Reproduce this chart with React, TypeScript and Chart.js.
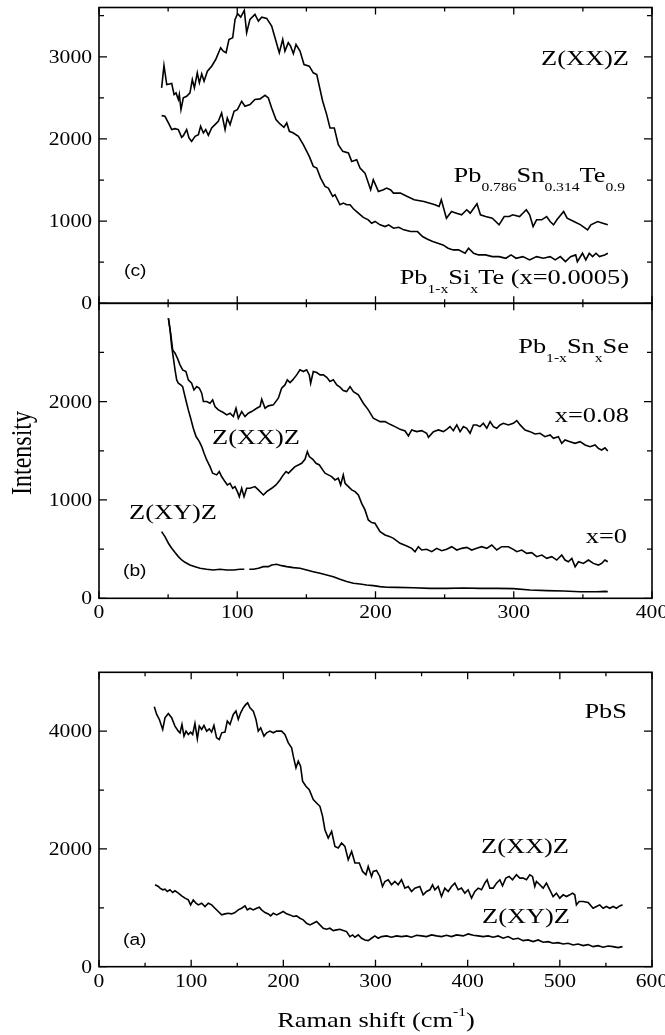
import React, { useEffect, useRef } from "react";
import { Chart, registerables } from "chart.js";

Chart.register(...registerables);

const PAGE_W = 665;
const PAGE_H = 1035;
const PLOT_LEFT = 99;
const PLOT_RIGHT = 652;
const SERIF = '"Liberation Serif", Tinos, "Times New Roman", serif';
const SANS = '"Liberation Sans", Arimo, Arial, Helvetica, sans-serif';
const STRETCH = 1.2;

type Pt = [number, number | null];

// ---------------- Panel (c): Z(XX)Z, Raman shift vs intensity ----------------
const cPbSnTe: Pt[] = [
  [45.3, 2622], [47.0, 2894], [49.0, 2662], [50.9, 2670], [52.6, 2675], [54.3, 2540], [55.7, 2561],
  [57.4, 2480], [58.1, 2540], [59.3, 2357], [61.0, 2500], [63.4, 2520], [65.8, 2561], [67.5, 2723],
  [69.0, 2622], [71.1, 2805], [72.6, 2683], [74.3, 2792], [76.0, 2703], [78.4, 2825], [81.5, 2886],
  [84.4, 2967], [88.0, 3110], [89.9, 3069], [91.9, 3049], [94.0, 3211], [96.7, 3232], [98.4, 3455],
  [100.3, 3524], [102.5, 3483], [105.1, 3565], [106.8, 3293], [109.2, 3455], [112.8, 3516], [115.3, 3435],
  [117.7, 3483], [121.3, 3467], [124.9, 3373], [127.3, 3232], [130.4, 3049], [132.9, 3211], [134.5, 3069],
  [136.9, 3171], [138.6, 3130], [140.6, 3037], [142.5, 3150], [145.4, 3069], [148.3, 2906], [152.1, 2886],
  [155.0, 2805], [157.5, 2784], [161.8, 2459], [164.7, 2296], [167.1, 2134], [170.2, 2134], [173.1, 1931],
  [176.3, 1849], [180.4, 1829], [182.8, 1727], [186.4, 1748], [188.8, 1646], [192.4, 1585], [196.5, 1382],
  [198.4, 1504], [202.1, 1362], [205.7, 1382], [208, 1402], [211, 1380], [213, 1341], [218, 1341],
  [223, 1300], [228, 1260], [235, 1239], [240, 1215], [243, 1199], [246, 1178], [247.6, 1260],
  [251.3, 1036], [255, 1117], [258, 1100], [262.3, 1077], [266, 1138], [268.5, 1097], [273.4, 1211],
  [275.9, 1077], [279.6, 1056], [284.5, 1036], [289.4, 955], [293.1, 1056], [296.8, 1056], [299.2, 1077],
  [304.2, 1056], [309.1, 1138], [311.5, 1077], [314, 934], [316.5, 1016], [320.2, 1016], [323.8, 1056],
  [326.3, 995], [328.8, 955], [331.2, 1016], [336.1, 1117], [338.6, 1036], [343.5, 995], [348.4, 955],
  [353.4, 894], [355.8, 955], [360.7, 995], [364.4, 975], [368, 955],
];

const cPbSiTe: Pt[] = [
  [45.3, 2284], [47.7, 2276], [50.2, 2195], [52.6, 2114], [55.0, 2126], [57.4, 2114], [59.8, 2020],
  [61.0, 2040], [63.4, 2114], [65.1, 2012], [67.0, 1971], [69.5, 2032], [71.9, 2053], [73.5, 2154],
  [75.5, 2073], [77.2, 2114], [79.1, 2045], [81.5, 2134], [83.9, 2175], [86.3, 2215], [88.7, 2317],
  [91.2, 2114], [92.8, 2256], [94.8, 2175], [97.7, 2337], [100.1, 2357], [103.2, 2459], [105.6, 2398],
  [109.2, 2419], [112.8, 2480], [116.5, 2488], [120.1, 2532], [122.5, 2500], [124.9, 2378], [128.0, 2236],
  [130.9, 2183], [133.8, 2142], [135.8, 2195], [137.7, 2093], [140.6, 2073], [144.2, 2032], [147.8, 1931],
  [152.1, 1788], [155.0, 1666], [157.5, 1646], [160.3, 1524], [163.5, 1423], [165.9, 1402], [169.0, 1301],
  [170.7, 1321], [174.3, 1199], [176.7, 1219], [179.2, 1199], [181.6, 1199], [184.0, 1150], [187.6, 1097],
  [191.2, 1045], [194.8, 1016], [197.2, 975], [199.7, 996], [203.3, 955], [207, 934], [209.5, 955],
  [213.1, 914], [216.8, 926], [220.5, 894], [225.4, 873], [230.4, 873], [234, 812], [237.7, 780],
  [241.4, 751], [245.1, 731], [248.8, 711], [252.5, 670], [256.2, 650], [260, 650], [264.8, 609],
  [267.3, 670], [271, 609], [274.6, 589], [279.6, 589], [284.5, 568], [289.4, 568], [294.3, 548],
  [298, 589], [301.7, 548], [306.6, 568], [311.5, 528], [316.5, 568], [321.4, 548], [326.3, 568],
  [330, 528], [333.7, 568], [337.4, 507], [341.1, 568], [344.8, 589], [346, 507], [349.7, 609],
  [352.1, 528], [354.6, 609], [357, 568], [359.5, 609], [362, 568], [365.7, 589], [368.1, 609],
];

// ---------------- Panel (b): Pb1-xSnxSe ----------------
const bX008: Pt[] = [
  [50.2, 2848], [51.8, 2696], [53.3, 2526], [55, 2492], [56.7, 2442], [58.6, 2374], [60.5, 2323],
  [62.9, 2306], [64.6, 2221], [67, 2187], [68.7, 2119], [70.7, 2153], [72.6, 2136], [74.3, 2086],
  [75.5, 2001], [77.9, 2001], [80.3, 1984], [82.2, 2018], [83.9, 1950], [86.3, 1916], [89.9, 1889],
  [92.4, 1865], [94.8, 1882], [97.2, 1848], [99.1, 1933], [100.8, 1831], [103.2, 1899], [105.6, 1848],
  [108, 1882], [110.4, 1899], [114.1, 1933], [116.5, 1950], [117.7, 2024], [120.1, 1933], [122.5, 1957],
  [126.1, 1967], [129.7, 2035], [132.1, 2136], [134.5, 2170], [136.2, 2221], [138.2, 2194], [140.1, 2221],
  [143, 2272], [145.4, 2323], [147.8, 2306], [150.2, 2323], [152.1, 2272], [153.1, 2187], [155, 2306],
  [157.5, 2296], [159.9, 2272], [162.3, 2272], [164.7, 2248], [167.1, 2204], [169.5, 2221], [172, 2170],
  [174.3, 2147], [176.7, 2113], [179.1, 2102], [181.6, 2153], [184, 2102], [187.6, 2069], [191.2, 1984],
  [194.8, 1916], [198.4, 1831], [203.3, 1797], [206.9, 1797], [210.5, 1769], [214.1, 1746], [217.8, 1718],
  [221.4, 1702], [223.8, 1651], [226.2, 1712], [229.8, 1695], [233.4, 1705], [237, 1678], [238.3, 1637],
  [241.9, 1695], [245.5, 1712], [249.1, 1695], [251.5, 1718], [253.9, 1746], [256.3, 1705], [258.8, 1763],
  [261.2, 1695], [263.6, 1746], [266, 1729], [268.4, 1678], [270.8, 1763], [273.2, 1763], [275.6, 1746],
  [278, 1780], [280.5, 1729], [282.9, 1797], [285.3, 1746], [287.7, 1729], [290.1, 1763], [292.5, 1780],
  [296.1, 1763], [299.7, 1780], [302.2, 1807], [304.6, 1763], [308.2, 1712], [311.8, 1695], [315.4, 1671],
  [319, 1678], [322.6, 1644], [326.3, 1661], [328.7, 1627], [332.3, 1644], [334.7, 1576], [337.1, 1610],
  [340.7, 1593], [344.3, 1576], [348, 1593], [351.6, 1559], [355.2, 1542], [358.8, 1559], [361.2, 1525],
  [363.6, 1508], [366, 1530], [368, 1498],
];

const bX0: Pt[] = [
  [50.2, 2848], [51.4, 2730], [52.6, 2560], [53.8, 2442], [55, 2323], [56.2, 2221], [57.4, 2187],
  [59.1, 2170], [60.5, 2153], [62.2, 2052], [63.4, 1984], [64.6, 1916], [66.3, 1831], [68.2, 1729],
  [70.2, 1645], [72.6, 1594], [74.3, 1543], [76, 1475], [77.9, 1407], [80.3, 1339], [82.2, 1272],
  [85.1, 1255], [87, 1289], [88.7, 1238], [91.1, 1187], [92.8, 1153], [94.8, 1170], [96.7, 1119],
  [98.4, 1136], [100.1, 1085], [101.5, 1034], [103.2, 1119], [104.9, 1034], [106.8, 1119], [109.2, 1119],
  [112.8, 1136], [115.3, 1102], [118.9, 1051], [121.3, 1085], [124.9, 1119], [128, 1153], [130.9, 1204],
  [133.3, 1255], [135.3, 1289], [137, 1272], [139.4, 1306], [141.8, 1339], [144.2, 1356], [146.6, 1373],
  [149, 1414], [150.7, 1492], [152.1, 1441], [154.6, 1414], [157, 1373], [159.4, 1356], [161.8, 1306],
  [163.5, 1272], [165.9, 1255], [168.3, 1238], [170.7, 1204], [173.1, 1221], [174.8, 1153], [176.7, 1255],
  [178, 1170], [180.4, 1136], [182.8, 1102], [185.2, 1085], [187.6, 1051], [190, 966], [192.4, 899],
  [194.8, 797], [197.2, 770], [199.6, 763], [203.3, 678], [206.9, 644], [210.5, 627], [213, 610],
  [217.8, 559], [222.6, 532], [226.2, 508], [228.6, 474], [231, 525], [233.4, 491], [237, 498],
  [240.7, 474], [244.3, 508], [247.9, 484], [251.5, 498], [255.1, 525], [258.8, 491], [262.4, 508],
  [266, 518], [269.6, 491], [273.2, 508], [276.8, 525], [280.5, 508], [284.1, 542], [287.7, 491],
  [291.3, 525], [296.1, 525], [299.7, 498], [302.2, 474], [305.8, 491], [309.4, 457], [313, 464],
  [316.6, 423], [320.3, 440], [323.9, 406], [327.5, 423], [331.1, 389], [334.7, 440], [337.1, 389],
  [339.5, 372], [342, 406], [344.4, 321], [346.8, 372], [350.4, 355], [354, 389], [357.6, 355],
  [361.2, 338], [363.6, 355], [366, 389], [368, 372],
];

const bXY: Pt[] = [
  [45.3, 678], [47.7, 627], [50.2, 560], [52.6, 509], [55, 465], [57.4, 424], [59.8, 390],
  [62.2, 366], [65.8, 339], [69.5, 322], [73.1, 305], [77.9, 295], [82.7, 288], [87.5, 295],
  [92.4, 288], [97.2, 288], [102, 295], [105.1, 295], [107, null], [108.7, 295], [111.6, 295],
  [115.3, 305], [118.9, 322], [122.5, 322], [124.9, 339], [128.5, 346], [132.1, 332], [135.8, 322],
  [140.6, 312], [145.4, 305], [150.2, 288], [155, 271], [159.9, 254], [164.7, 237], [169.5, 220],
  [174.3, 193], [179.1, 170], [184, 153], [188.8, 146], [193.6, 136], [198.4, 129], [203.3, 119],
  [208.1, 112], [215.4, 111], [227.4, 108], [239.5, 101], [251.5, 101], [263.6, 104], [275.6, 101],
  [287.7, 101], [299.7, 98], [311.8, 84], [323.9, 78], [336, 74], [348, 67], [360, 67], [366, 70],
  [368, 68],
];

// ---------------- Panel (a): PbS ----------------
const aXX: Pt[] = [
  [60, 4415], [62.6, 4284], [65.5, 4199], [69.1, 4029], [71.6, 4228], [75.2, 4301], [78.8, 4228],
  [82.4, 4086], [86.1, 4001], [87.9, 3972], [90, 4114], [92.2, 3916], [94.4, 4001], [96.9, 3944],
  [99.4, 3984], [101.6, 3944], [104.1, 4131], [106.7, 3870], [108.8, 4086], [111.4, 4029], [113.9, 4097],
  [116.8, 4001], [119.7, 4040], [122.2, 3984], [124.7, 4097], [127.6, 3887], [130.5, 3859], [133.1, 3972],
  [136.7, 3984], [139.2, 4171], [142.1, 4114], [145.7, 4284], [148.6, 4341], [151.1, 4199], [153.7, 4313],
  [156.6, 4398], [159.4, 4455], [161.3, 4483], [163.8, 4398], [167.4, 4341], [170.3, 4199], [172.8, 4001],
  [175.4, 4057], [179, 3916], [181.9, 3972], [185.5, 4001], [189.1, 3972], [192.7, 4001], [198.1, 4001],
  [201.7, 3944], [205.4, 3802], [209, 3717], [210.8, 3575], [213.7, 3377], [216.2, 3490], [218.7, 3405],
  [220.9, 3150], [224.5, 3065], [228.1, 3008], [232.5, 2838], [236.1, 2781], [239.7, 2724], [242.6, 2554],
  [245.1, 2327], [248.7, 2185], [252.4, 2299], [256, 2043], [259.6, 2015], [263.2, 2100], [266.8, 2043],
  [270.4, 1816], [274.1, 1958], [277.7, 1760], [282.4, 1760], [286, 1618], [289.6, 1561], [292.1, 1703],
  [295.7, 1533], [297.5, 1618], [301.1, 1635], [304.7, 1533], [307.6, 1362], [310.2, 1447], [313.8, 1476],
  [317.4, 1391], [321, 1447], [324.6, 1391], [328.2, 1476], [331.9, 1334], [335.5, 1362], [339.1, 1277],
  [342.7, 1334], [348.1, 1362], [351.7, 1221], [355.4, 1277], [359, 1306], [361.9, 1391], [364.4, 1306],
  [368, 1362], [371.6, 1192], [375.2, 1334], [378.9, 1277], [382.5, 1362], [386.1, 1419], [389.7, 1306],
  [393.3, 1334], [396.9, 1249], [400.5, 1306], [404.2, 1164], [407.8, 1277], [411.4, 1334], [415, 1306],
  [418.6, 1419], [421.1, 1476], [424, 1334], [427.7, 1334], [431.3, 1419], [434.9, 1476], [437.8, 1374],
  [441.4, 1504], [445, 1533], [448.6, 1476], [452.9, 1561], [456.6, 1504], [460.2, 1504], [463.8, 1476],
  [467.4, 1561], [470.3, 1533], [472.8, 1362], [474.6, 1447], [478.3, 1391], [481.9, 1334], [485.5, 1419],
  [489.1, 1306], [492.7, 1192], [496.3, 1249], [499.9, 1164], [503.6, 1221], [507.2, 1192], [510.8, 1221],
  [513.7, 1249], [516.2, 1221], [518, 1050], [520.9, 1107], [525.3, 1107], [530.7, 1090], [536.1, 993],
  [539.7, 1022], [543.3, 1050], [547, 993], [550.6, 1022], [554.2, 993], [557.8, 1022], [561.4, 993],
  [565, 1033], [568, 1050],
];

const aXY: Pt[] = [
  [60.8, 1391], [64.4, 1362], [66.2, 1334], [69.1, 1306], [71.6, 1317], [74.1, 1277], [77, 1306],
  [79.9, 1261], [82.4, 1289], [86.1, 1249], [89.7, 1204], [93.3, 1164], [96.9, 1135], [99.4, 1050],
  [102.3, 1135], [105.2, 1079], [107.8, 1050], [111.4, 1079], [115, 1022], [118.6, 1079], [122.2, 1050],
  [125.8, 993], [129.4, 937], [133.1, 880], [136.7, 897], [140.3, 908], [143.9, 897], [147.5, 920],
  [151.1, 965], [154.7, 993], [158.4, 1033], [160.9, 965], [163.8, 993], [167.4, 965], [171, 993],
  [173.9, 1010], [176.4, 965], [180.1, 920], [183.7, 897], [186.2, 863], [189.1, 908], [192.7, 880],
  [196.3, 908], [199.9, 937], [203.6, 897], [207.2, 880], [210.8, 852], [214.4, 863], [218, 823],
  [221.6, 795], [225.2, 738], [228.9, 710], [232.5, 738], [236.1, 767], [239.7, 710], [243.3, 653],
  [246.9, 636], [250.5, 653], [254.2, 613], [257.8, 625], [261.4, 636], [265, 613], [268.6, 596],
  [272.2, 511], [275.1, 540], [277.7, 500], [281.3, 540], [284.9, 483], [288.5, 455], [292.1, 443],
  [295.7, 483], [299.3, 523], [302.9, 483], [306.6, 511], [312, 523], [317.4, 500], [322.8, 523],
  [328.2, 511], [333.7, 523], [339.1, 500], [344.5, 534], [349.9, 523], [355.4, 511], [360.8, 540],
  [366.2, 523], [371.6, 511], [377, 534], [382.5, 511], [387.9, 540], [395.1, 523], [400.5, 557],
  [406, 534], [411.4, 523], [416.8, 511], [422.2, 523], [427.7, 500], [433.1, 523], [438.5, 483],
  [443.9, 511], [449.3, 466], [454.8, 483], [460.2, 443], [465.6, 455], [471, 426], [476.5, 455],
  [481.9, 415], [487.3, 426], [492.7, 398], [498.1, 409], [503.6, 386], [509, 398], [514.4, 369],
  [519.8, 386], [525.3, 358], [530.7, 375], [536.1, 341], [541.5, 358], [547, 330], [552.4, 352],
  [557.8, 341], [563.2, 324], [568, 341],
];

// ---------------- Axis ticks ----------------
const bcXMajor = [0, 100, 200, 300, 400];
const bcXMinor = [50, 150, 250, 350];
const cYMajor = [0, 1000, 2000, 3000];
const cYMinor = [500, 1500, 2500, 3500];
const bYMajor = [0, 1000, 2000];
const bYMinor = [500, 1500, 2500];
const aXMajor = [0, 100, 200, 300, 400, 500, 600];
const aXMinor = [50, 150, 250, 350, 450, 550];
const aYMajor = [0, 2000, 4000];
const aYMinor = [1000, 3000];

// ---------------- Text helpers ----------------
type Seg = { t: string; k?: "sub" | "sup" };
type Note = {
  segs: Seg[];
  x: number;
  y: number;
  size: number;
  small?: number;
  align?: "left" | "right" | "center";
  family?: string;
  rotate?: boolean;
};

function segsWidth(ctx: CanvasRenderingContext2D, segs: Seg[], size: number, small: number, family: string) {
  let w = 0;
  for (const s of segs) {
    ctx.font = `${s.k ? small : size}px ${family}`;
    w += ctx.measureText(s.t).width * STRETCH;
  }
  return w;
}

function drawNote(ctx: CanvasRenderingContext2D, n: Note) {
  const family = n.family ?? SERIF;
  const small = n.small ?? Math.round(n.size * 0.6);
  ctx.save();
  ctx.fillStyle = "#000";
  ctx.textAlign = "left";
  ctx.textBaseline = "alphabetic";
  if (n.rotate) {
    const txt = n.segs.map((s) => s.t).join("");
    ctx.font = `${n.size}px ${family}`;
    const w = ctx.measureText(txt).width;
    ctx.translate(n.x, n.y);
    ctx.rotate(-Math.PI / 2);
    ctx.scale(1, STRETCH);
    ctx.fillText(txt, -w / 2, 0);
    ctx.restore();
    return;
  }
  const w = segsWidth(ctx, n.segs, n.size, small, family);
  let cx = n.align === "right" ? n.x - w : n.align === "center" ? n.x - w / 2 : n.x;
  for (const s of n.segs) {
    ctx.font = `${s.k ? small : n.size}px ${family}`;
    const dy = s.k === "sub" ? n.size * 0.41 : s.k === "sup" ? -n.size * 0.5 : 0;
    const sw = ctx.measureText(s.t).width * STRETCH;
    ctx.save();
    ctx.translate(cx, n.y + dy);
    ctx.scale(STRETCH, 1);
    ctx.fillText(s.t, 0, 0);
    ctx.restore();
    cx += sw;
  }
  ctx.restore();
}

// ---------------- Panels ----------------
type Panel = {
  id: string;
  top: number;
  bottom: number;
  xMax: number;
  yMax: number;
  xMajor: number[];
  xMinor: number[];
  yMajor: number[];
  yMinor: number[];
  xLabels: boolean;
  series: Pt[][];
  notes: Note[];
};

const PANELS: Panel[] = [
  {
    id: "c",
    top: 7.5,
    bottom: 303.3,
    xMax: 400,
    yMax: 3600,
    xMajor: bcXMajor,
    xMinor: bcXMinor,
    yMajor: cYMajor,
    yMinor: cYMinor,
    xLabels: false,
    series: [cPbSnTe, cPbSiTe],
    notes: [
      { segs: [{ t: "Z(XX)Z" }], x: 629, y: 65, size: 22, align: "right" },
      {
        segs: [
          { t: "Pb" }, { t: "0.786", k: "sub" }, { t: "Sn" }, { t: "0.314", k: "sub" },
          { t: "Te" }, { t: "0.9", k: "sub" },
        ],
        x: 625, y: 182, size: 22, small: 13, align: "right",
      },
      {
        segs: [{ t: "Pb" }, { t: "1-x", k: "sub" }, { t: "Si" }, { t: "x", k: "sub" }, { t: "Te (x=0.0005)" }],
        x: 629, y: 284, size: 22, small: 13, align: "right",
      },
      { segs: [{ t: "(c)" }], x: 124, y: 276, size: 16, family: SANS },
    ],
  },
  {
    id: "b",
    top: 303.3,
    bottom: 598.3,
    xMax: 400,
    yMax: 3000,
    xMajor: bcXMajor,
    xMinor: bcXMinor,
    yMajor: bYMajor,
    yMinor: bYMinor,
    xLabels: true,
    series: [bX008, bX0, bXY],
    notes: [
      {
        segs: [{ t: "Pb" }, { t: "1-x", k: "sub" }, { t: "Sn" }, { t: "x", k: "sub" }, { t: "Se" }],
        x: 629, y: 353, size: 22, small: 13, align: "right",
      },
      { segs: [{ t: "x=0.08" }], x: 629, y: 422, size: 22, align: "right" },
      { segs: [{ t: "Z(XX)Z" }], x: 212, y: 444, size: 22 },
      { segs: [{ t: "Z(XY)Z" }], x: 129, y: 519, size: 22 },
      { segs: [{ t: "x=0" }], x: 627, y: 543, size: 22, align: "right" },
      { segs: [{ t: "(b)" }], x: 123, y: 576, size: 16, family: SANS },
    ],
  },
  {
    id: "a",
    top: 672.3,
    bottom: 966.7,
    xMax: 600,
    yMax: 5000,
    xMajor: aXMajor,
    xMinor: aXMinor,
    yMajor: aYMajor,
    yMinor: aYMinor,
    xLabels: true,
    series: [aXX, aXY],
    notes: [
      { segs: [{ t: "PbS" }], x: 627, y: 718, size: 22, align: "right" },
      { segs: [{ t: "Z(XX)Z" }], x: 569, y: 853, size: 22, align: "right" },
      { segs: [{ t: "Z(XY)Z" }], x: 570, y: 923, size: 22, align: "right" },
      { segs: [{ t: "(a)" }], x: 123, y: 945, size: 16, family: SANS },
      {
        segs: [{ t: "Raman shift (cm" }, { t: "-1", k: "sup" }, { t: ")" }],
        x: 376, y: 1027, size: 22, small: 13, align: "center",
      },
      { segs: [{ t: "Intensity" }], x: 31, y: 453, size: 24, rotate: true },
    ],
  },
];

function panelPlugin(p: Panel) {
  return {
    id: "panel-" + p.id,
    afterDatasetsDraw(chart: any) {
      const ctx: CanvasRenderingContext2D = chart.ctx;
      const a = chart.chartArea;
      const xs = chart.scales.x;
      const ys = chart.scales.y;
      ctx.save();
      ctx.strokeStyle = "#000";
      ctx.lineWidth = 1.6;
      ctx.strokeRect(a.left, a.top, a.right - a.left, a.bottom - a.top);
      ctx.lineWidth = 1.3;
      ctx.beginPath();
      const xt = (vals: number[], len: number) => {
        for (const v of vals) {
          const px = xs.getPixelForValue(v);
          ctx.moveTo(px, a.bottom);
          ctx.lineTo(px, a.bottom - len);
          ctx.moveTo(px, a.top);
          ctx.lineTo(px, a.top + len);
        }
      };
      const yt = (vals: number[], len: number) => {
        for (const v of vals) {
          const py = ys.getPixelForValue(v);
          ctx.moveTo(a.left, py);
          ctx.lineTo(a.left + len, py);
          ctx.moveTo(a.right, py);
          ctx.lineTo(a.right - len, py);
        }
      };
      xt(p.xMajor, 7);
      xt(p.xMinor, 4);
      yt(p.yMajor, 8);
      yt(p.yMinor, 5);
      ctx.stroke();
      ctx.restore();

      for (const v of p.yMajor) {
        drawNote(ctx, { segs: [{ t: String(v) }], x: a.left - 7, y: ys.getPixelForValue(v) + 6, size: 18, align: "right" });
      }
      if (p.xLabels) {
        for (const v of p.xMajor) {
          drawNote(ctx, { segs: [{ t: String(v) }], x: xs.getPixelForValue(v), y: a.bottom + 20, size: 18, align: "center" });
        }
      }
      for (const n of p.notes) drawNote(ctx, n);
    },
  };
}

function buildConfig(p: Panel): any {
  return {
    type: "line",
    data: {
      datasets: p.series.map((s, i) => ({
        label: p.id + i,
        data: s.map(([x, y]) => ({ x, y })),
        borderColor: "#000",
        borderWidth: 1.6,
        pointRadius: 0,
        fill: false,
        tension: 0,
        spanGaps: false,
      })),
    },
    options: {
      animation: false,
      responsive: false,
      devicePixelRatio: 1,
      events: [],
      layout: {
        padding: { left: PLOT_LEFT, right: PAGE_W - PLOT_RIGHT, top: p.top, bottom: PAGE_H - p.bottom },
      },
      scales: {
        x: { type: "linear", min: 0, max: p.xMax, display: false },
        y: { type: "linear", min: 0, max: p.yMax, display: false },
      },
      plugins: { legend: { display: false }, tooltip: { enabled: false } },
    },
    plugins: [panelPlugin(p)],
  };
}

export default function App() {
  const r0 = useRef<HTMLCanvasElement>(null);
  const r1 = useRef<HTMLCanvasElement>(null);
  const r2 = useRef<HTMLCanvasElement>(null);
  const refs = [r0, r1, r2];

  useEffect(() => {
    const charts = PANELS.map((p, i) => new Chart(refs[i].current as HTMLCanvasElement, buildConfig(p)));
    return () => {
      charts.forEach((c) => c.destroy());
    };
  }, []);

  return (
    <div style={{ position: "absolute", left: 0, top: 0, width: PAGE_W, height: PAGE_H, background: "#fff" }}>
      {PANELS.map((p, i) => (
        <canvas
          key={p.id}
          ref={refs[i]}
          width={PAGE_W}
          height={PAGE_H}
          style={{ position: "absolute", left: 0, top: 0, width: PAGE_W, height: PAGE_H }}
        />
      ))}
    </div>
  );
}
